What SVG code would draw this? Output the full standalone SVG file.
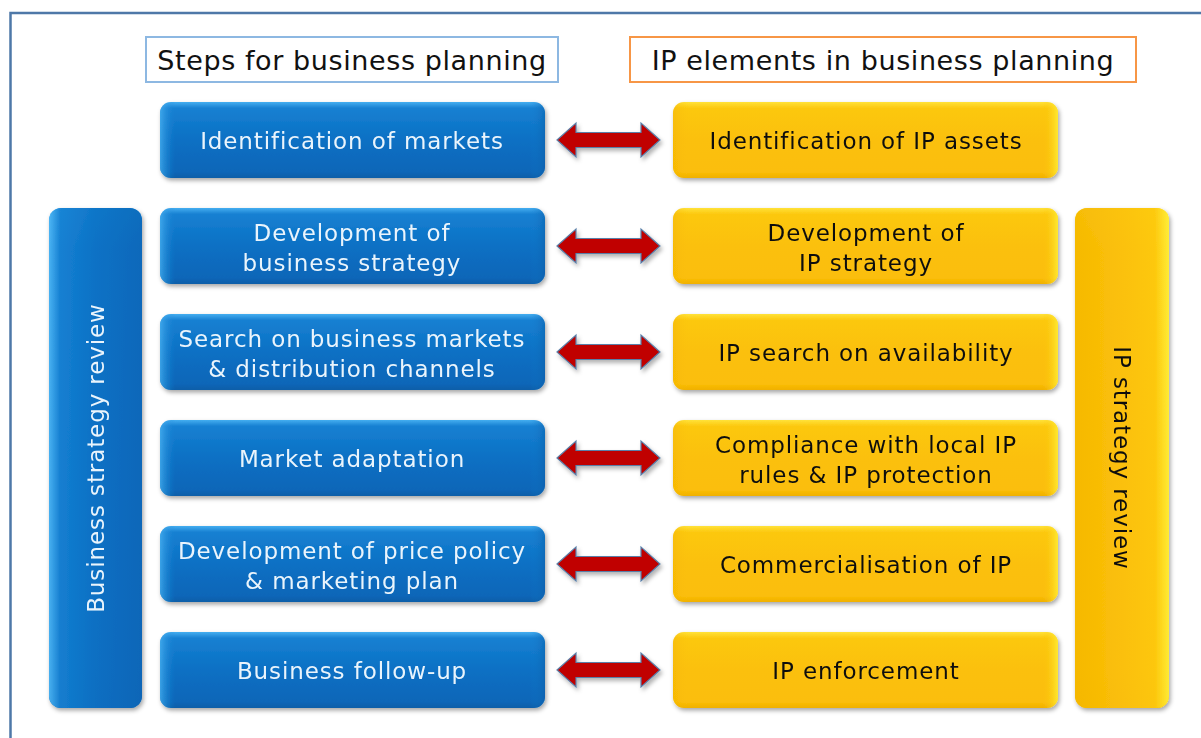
<svg xmlns="http://www.w3.org/2000/svg" width="1201" height="738" viewBox="0 0 1201 738">
  <defs>
    <style>
      .hdr { font-family: "DejaVu Sans", Verdana, sans-serif; font-size: 27px; letter-spacing: 0.6px; fill: #111; text-anchor: middle; }
      .bt { font-family: "DejaVu Sans", Verdana, sans-serif; font-size: 23px; letter-spacing: 0.9px; fill: #EAF4FC; text-anchor: middle; }
      .yt { font-family: "DejaVu Sans", Verdana, sans-serif; font-size: 23px; letter-spacing: 0.9px; fill: #111; text-anchor: middle; }
      .arrow { fill: #C00000; stroke: #5A7FA8; stroke-width: 1.2; stroke-linejoin: miter; }
    </style>
    <linearGradient id="blueV" x1="0" y1="0" x2="0" y2="1">
      <stop offset="0" stop-color="#45AEF0"/>
      <stop offset="0.08" stop-color="#1780D2"/>
      <stop offset="0.5" stop-color="#0A70C4"/>
      <stop offset="0.92" stop-color="#0766B8"/>
      <stop offset="1" stop-color="#0A5EA8"/>
    </linearGradient>
    <linearGradient id="blueH" x1="0" y1="0" x2="1" y2="0">
      <stop offset="0" stop-color="#4FB8F6" stop-opacity="0.7"/>
      <stop offset="0.04" stop-color="#1B82D4" stop-opacity="0"/>
      <stop offset="0.96" stop-color="#1B82D4" stop-opacity="0"/>
      <stop offset="1" stop-color="#0A5EA8" stop-opacity="0.5"/>
    </linearGradient>
    <linearGradient id="blueHTall" x1="0" y1="0" x2="1" y2="0">
      <stop offset="0" stop-color="#4FB8F6"/>
      <stop offset="0.12" stop-color="#1580D2"/>
      <stop offset="0.5" stop-color="#0A70C4"/>
      <stop offset="1" stop-color="#0766B8"/>
    </linearGradient>
    <linearGradient id="yelV" x1="0" y1="0" x2="0" y2="1">
      <stop offset="0" stop-color="#FFE23A"/>
      <stop offset="0.08" stop-color="#FCC80E"/>
      <stop offset="0.5" stop-color="#FBC00A"/>
      <stop offset="0.92" stop-color="#FBBE08"/>
      <stop offset="1" stop-color="#F0B000"/>
    </linearGradient>
    <linearGradient id="yelH" x1="0" y1="0" x2="1" y2="0">
      <stop offset="0" stop-color="#F0B000" stop-opacity="0.4"/>
      <stop offset="0.04" stop-color="#FBC00A" stop-opacity="0"/>
      <stop offset="0.96" stop-color="#FBC00A" stop-opacity="0"/>
      <stop offset="1" stop-color="#FFF23A" stop-opacity="0.8"/>
    </linearGradient>
    <linearGradient id="yelHTall" x1="0" y1="0" x2="1" y2="0">
      <stop offset="0" stop-color="#F5B800"/>
      <stop offset="0.5" stop-color="#FBC00A"/>
      <stop offset="0.85" stop-color="#FDC80C"/>
      <stop offset="1" stop-color="#FFF03A"/>
    </linearGradient>
    <filter id="shadow" x="-10%" y="-10%" width="125%" height="130%">
      <feDropShadow dx="1.5" dy="2.5" stdDeviation="2" flood-color="#000" flood-opacity="0.35"/>
    </filter>
    <filter id="ashadow" x="-10%" y="-30%" width="125%" height="170%">
      <feDropShadow dx="2" dy="3" stdDeviation="2" flood-color="#000" flood-opacity="0.3"/>
    </filter>
  </defs>

  <rect width="1201" height="738" fill="#FFFFFF"/>
  <!-- outer frame (runs off the right and bottom edges) -->
  <rect x="10.5" y="13" width="1210" height="740" fill="none" stroke="#4E78A8" stroke-width="2.5"/>

  <!-- column headings -->
  <g id="hdr-business">
    <rect x="146" y="37" width="412" height="45" fill="#FFFFFF" stroke="#8DB8E2" stroke-width="2"/>
    <text class="hdr" x="352" y="70">Steps for business planning</text>
  </g>
  <g id="hdr-ip">
    <rect x="630" y="37" width="506" height="45" fill="#FFFFFF" stroke="#F79646" stroke-width="2"/>
    <text class="hdr" x="883" y="70">IP elements in business planning</text>
  </g>

  <!-- side review bars -->
  <g id="business-review" filter="url(#shadow)">
    <rect x="49" y="208" width="93" height="500" rx="12" fill="url(#blueV)"/>
    <rect x="49" y="208" width="93" height="500" rx="12" fill="url(#blueHTall)" opacity="0.9"/>
    <text class="bt" transform="translate(104 458) rotate(-90)">Business strategy review</text>
  </g>
  <g id="ip-review" filter="url(#shadow)">
    <rect x="1075" y="208" width="94" height="500" rx="12" fill="url(#yelV)"/>
    <rect x="1075" y="208" width="94" height="500" rx="12" fill="url(#yelHTall)" opacity="0.9"/>
    <text class="yt" transform="translate(1114 458) rotate(90)">IP strategy review</text>
  </g>

  <!-- business planning steps -->
  <g id="b1" filter="url(#shadow)">
    <rect x="160" y="102" width="385" height="76" rx="11" fill="url(#blueV)"/>
    <rect x="160" y="102" width="385" height="76" rx="11" fill="url(#blueH)"/>
    <text class="bt" x="352" y="149">Identification of markets</text>
  </g>
  <g id="b2" filter="url(#shadow)">
    <rect x="160" y="208" width="385" height="76" rx="11" fill="url(#blueV)"/>
    <rect x="160" y="208" width="385" height="76" rx="11" fill="url(#blueH)"/>
    <text class="bt" x="352" y="241">Development of</text>
    <text class="bt" x="352" y="271">business strategy</text>
  </g>
  <g id="b3" filter="url(#shadow)">
    <rect x="160" y="314" width="385" height="76" rx="11" fill="url(#blueV)"/>
    <rect x="160" y="314" width="385" height="76" rx="11" fill="url(#blueH)"/>
    <text class="bt" x="352" y="347">Search on business markets</text>
    <text class="bt" x="352" y="377">&amp; distribution channels</text>
  </g>
  <g id="b4" filter="url(#shadow)">
    <rect x="160" y="420" width="385" height="76" rx="11" fill="url(#blueV)"/>
    <rect x="160" y="420" width="385" height="76" rx="11" fill="url(#blueH)"/>
    <text class="bt" x="352" y="467">Market adaptation</text>
  </g>
  <g id="b5" filter="url(#shadow)">
    <rect x="160" y="526" width="385" height="76" rx="11" fill="url(#blueV)"/>
    <rect x="160" y="526" width="385" height="76" rx="11" fill="url(#blueH)"/>
    <text class="bt" x="352" y="559">Development of price policy</text>
    <text class="bt" x="352" y="589">&amp; marketing plan</text>
  </g>
  <g id="b6" filter="url(#shadow)">
    <rect x="160" y="632" width="385" height="76" rx="11" fill="url(#blueV)"/>
    <rect x="160" y="632" width="385" height="76" rx="11" fill="url(#blueH)"/>
    <text class="bt" x="352" y="679">Business follow-up</text>
  </g>

  <!-- IP elements -->
  <g id="ip1" filter="url(#shadow)">
    <rect x="673" y="102" width="385" height="76" rx="11" fill="url(#yelV)"/>
    <rect x="673" y="102" width="385" height="76" rx="11" fill="url(#yelH)"/>
    <text class="yt" x="866" y="149">Identification of IP assets</text>
  </g>
  <g id="ip2" filter="url(#shadow)">
    <rect x="673" y="208" width="385" height="76" rx="11" fill="url(#yelV)"/>
    <rect x="673" y="208" width="385" height="76" rx="11" fill="url(#yelH)"/>
    <text class="yt" x="866" y="241">Development of</text>
    <text class="yt" x="866" y="271">IP strategy</text>
  </g>
  <g id="ip3" filter="url(#shadow)">
    <rect x="673" y="314" width="385" height="76" rx="11" fill="url(#yelV)"/>
    <rect x="673" y="314" width="385" height="76" rx="11" fill="url(#yelH)"/>
    <text class="yt" x="866" y="361">IP search on availability</text>
  </g>
  <g id="ip4" filter="url(#shadow)">
    <rect x="673" y="420" width="385" height="76" rx="11" fill="url(#yelV)"/>
    <rect x="673" y="420" width="385" height="76" rx="11" fill="url(#yelH)"/>
    <text class="yt" x="866" y="453">Compliance with local IP</text>
    <text class="yt" x="866" y="483">rules &amp; IP protection</text>
  </g>
  <g id="ip5" filter="url(#shadow)">
    <rect x="673" y="526" width="385" height="76" rx="11" fill="url(#yelV)"/>
    <rect x="673" y="526" width="385" height="76" rx="11" fill="url(#yelH)"/>
    <text class="yt" x="866" y="573">Commercialisation of IP</text>
  </g>
  <g id="ip6" filter="url(#shadow)">
    <rect x="673" y="632" width="385" height="76" rx="11" fill="url(#yelV)"/>
    <rect x="673" y="632" width="385" height="76" rx="11" fill="url(#yelH)"/>
    <text class="yt" x="866" y="679">IP enforcement</text>
  </g>

  <!-- double-headed connectors between matching rows -->
  <g id="connectors" filter="url(#ashadow)">
    <path id="arrowShape" class="arrow" d="M557 140 L576 123 L576 132.5 L641 132.5 L641 123 L660 140 L641 157 L641 147.5 L576 147.5 L576 157 Z"/>
    <use href="#arrowShape" y="106"/>
    <use href="#arrowShape" y="212"/>
    <use href="#arrowShape" y="318"/>
    <use href="#arrowShape" y="424"/>
    <use href="#arrowShape" y="530"/>
  </g>
</svg>
